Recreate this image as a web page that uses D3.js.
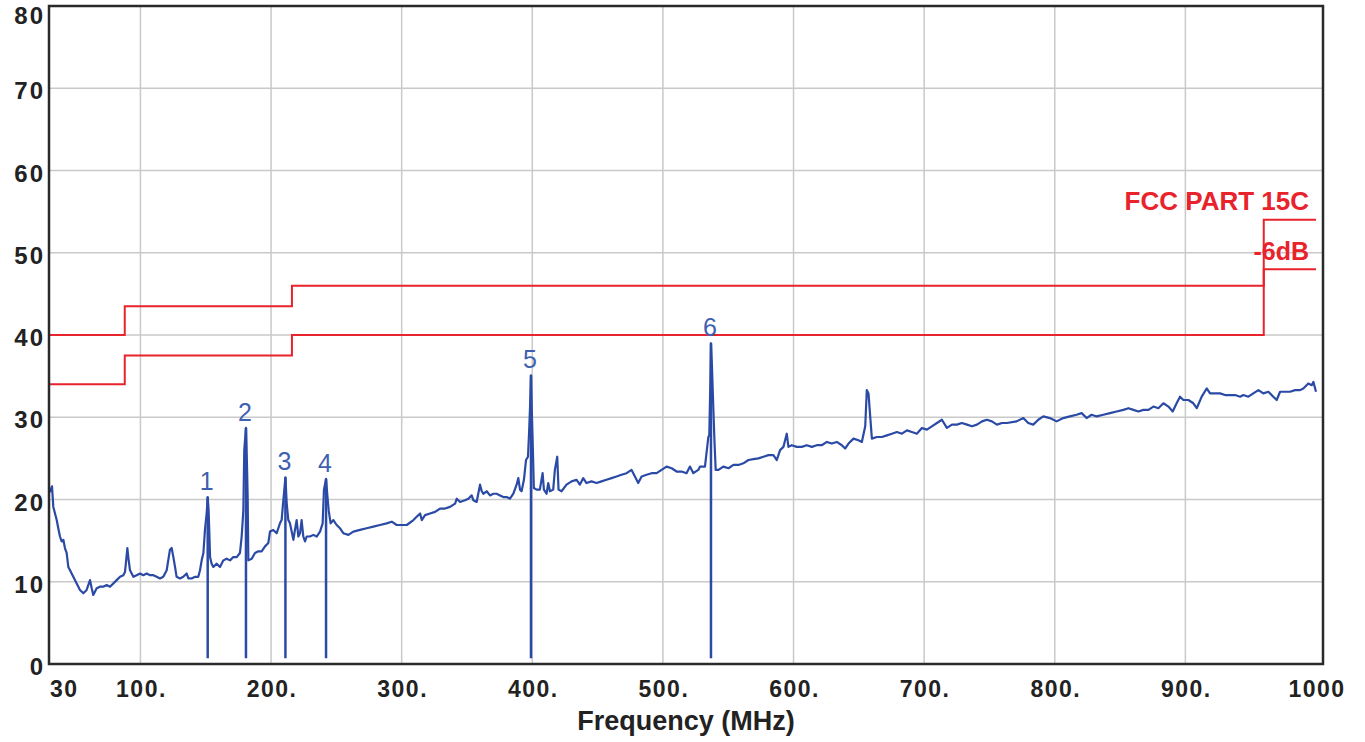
<!DOCTYPE html>
<html><head><meta charset="utf-8">
<script src="https://cdn.jsdelivr.net/npm/d3@7"></script>
<style>html,body{margin:0;padding:0;background:#fff;overflow:hidden}</style>
</head><body><svg id="c" width="1365" height="742"></svg>
<script>
// ---- data ----
const traceFreq = [30,31.3,32.3,33.3,34.6,35.9,37.1,38.4,39.7,41.0,42.2,43.5,44.8,46.1,48.6,51.2,53.7,56.3,58.8,61.4,62.7,63.9,66.5,69.0,71.6,74.1,76.7,79.3,81.8,84.4,86.9,88.2,90.0,90.7,92.0,94.6,97.1,99.7,102.2,104.8,107.3,109.9,112.4,115.0,117.5,120.1,122.6,123.9,125.2,126.5,127.7,130.3,132.8,135.4,136.7,139.2,141.8,144.3,145.6,146.9,148.2,149.4,150.7,151.5,152.2,153.3,154.5,155.8,158.4,160.9,163.5,166.0,168.6,171.1,173.7,176.2,177.5,178.8,179.5,180.8,181.6,182.1,182.6,185.2,187.7,190.3,192.8,195.4,197.9,199.2,201.7,204.3,206.8,208.1,209.4,211.0,212.0,213.2,214.5,217.1,218.3,219.6,220.9,222.2,223.4,224.7,226.0,227.3,229.8,232.4,234.9,237.5,239.5,240.5,242.1,243.1,244.1,245.6,247.7,250.2,252.8,
255.3,259.2,263.0,268.1,273.2,278.3,283.4,288.5,292.4,296.2,300.0,303.9,309.0,311.5,314.1,315.4,317.9,321.7,325.6,329.4,333.2,337.0,340.9,342.2,344.7,348.5,351.1,353.6,354.9,357.4,360.0,361.3,362.5,365.1,367.6,370.2,372.7,375.3,377.8,380.4,382.9,385.5,388.0,389.3,390.6,391.8,393.6,395.2,396.7,397.5,398.3,399.0,399.6,400.2,401.2,403.3,405.8,407.9,408.9,410.9,412.2,413.5,416.0,417.3,419.1,420.1,422.4,426.2,430.1,433.9,436.4,439.0,441.5,445.3,449.2,453.0,456.8,460.7,464.5,468.3,472.2,476.0,478.6,481.1,483.7,487.5,491.3,495.2,499.0,502.8,506.7,510.5,514.3,518.1,520.7,523.3,527.1,
528.4,532.2,534.8,535.5,536.3,536.8,537.5,538.6,539.5,540.4,542.5,546.3,550.2,554.0,557.8,561.6,565.5,569.3,573.1,577.0,580.8,584.6,587.2,589.7,592.3,594.8,596.1,598.6,602.5,606.3,610.1,614.0,617.8,621.6,625.5,629.3,633.1,637.0,639.5,642.1,645.9,649.7,652.3,654.9,656.1,657.4,658.7,660.0,663.8,667.6,671.5,675.3,679.1,683.0,686.8,690.6,694.4,698.3,702.1,705.9,709.8,713.6,717.4,721.3,725.1,728.9,732.8,736.6,740.4,744.3,748.1,751.9,755.7,759.6,763.4,
770.8,775.9,779.7,783.5,787.4,791.2,796.3,801.4,806.5,811.6,816.7,820.6,824.4,828.2,832.1,837.2,842.3,847.4,852.5,856.4,860.2,864.0,867.9,871.7,875.5,879.3,883.2,887.0,890.3,893.3,895.9,898.5,902.3,906.1,908.7,912.5,916.3,918.9,922.7,926.5,930.4,934.2,938.0,941.9,944.4,948.2,952.0,955.9,959.7,963.5,967.3,969.9,972.5,976.3,980.1,984.0,987.8,990.3,994.1,996.7,998.0,1000];
const traceLevel = [20.8,21.2,21.6,19.1,18.3,17.5,16.5,15.5,14.9,15.1,14.1,13.5,11.8,11.4,10.6,9.8,9.0,8.6,9.0,10.2,9.2,8.4,9.2,9.4,9.4,9.6,9.4,9.8,10.2,10.6,10.8,11.2,14.1,13.0,11.4,10.6,10.8,11.0,10.8,11.0,10.8,10.8,10.6,10.4,10.6,11.4,13.9,14.1,13.0,11.8,10.6,10.4,10.6,11.0,10.4,10.4,10.6,10.6,11.4,12.6,13.5,16.3,18.3,20.3,18.7,13.0,12.2,11.8,12.2,11.8,12.6,12.8,12.6,13.0,13.0,13.5,15.5,18.7,26.0,28.7,24.0,20.3,12.6,12.8,13.5,13.7,13.7,14.3,14.7,16.1,16.3,15.9,17.1,17.5,19.9,22.7,19.5,17.5,17.1,15.1,16.3,17.5,15.5,15.9,17.5,15.5,14.9,15.5,15.5,15.7,15.5,16.1,17.1,21.2,22.5,20.5,18.7,17.1,17.5,16.9,16.5,
15.9,15.7,16.1,16.3,16.5,16.7,16.9,17.1,17.3,16.9,16.9,16.9,17.5,17.9,18.3,17.5,18.1,18.3,18.5,18.9,18.9,19.1,19.5,20.1,19.7,19.9,20.1,20.5,19.9,19.7,21.8,21.0,20.7,21.0,20.5,20.7,20.7,20.5,20.3,20.3,20.1,20.7,21.8,22.6,21.2,21.0,22.4,24.8,25.2,28.0,31.3,35.1,31.0,27.6,21.4,21.2,21.2,23.2,21.2,20.7,22.0,21.0,21.2,23.6,25.2,21.2,21.0,21.8,22.2,22.4,21.8,22.6,22.0,22.2,22.0,22.2,22.4,22.6,22.8,23.0,23.2,23.6,22.8,22.0,22.8,23.0,23.2,23.2,23.6,24.0,23.8,23.4,23.4,23.2,24.0,23.2,23.6,
24.0,24.0,27.6,27.8,34.0,39.0,36.4,31.1,27.0,23.6,23.6,24.0,23.8,24.2,24.2,24.4,24.8,24.9,25.0,25.2,25.4,25.4,24.8,26.0,26.4,28.0,26.4,26.6,26.4,26.4,26.6,26.4,26.6,26.6,27.0,26.8,27.0,26.6,26.2,26.8,27.4,27.2,27.0,28.9,33.3,32.9,30.1,27.4,27.6,27.6,27.8,28.0,28.2,28.0,28.4,28.2,28.0,28.7,28.5,28.9,29.3,29.7,28.7,29.1,29.1,29.3,29.1,28.9,29.1,29.5,29.7,29.5,29.1,29.3,29.3,
29.5,29.9,29.3,29.1,29.7,30.1,29.9,29.5,29.9,30.1,30.3,30.5,29.9,30.3,30.1,30.3,30.5,30.7,30.9,31.1,30.9,30.7,30.9,30.9,31.3,31.1,31.7,31.3,30.7,31.7,32.5,32.1,32.1,31.7,31.1,32.5,33.5,32.9,32.9,32.9,32.7,32.7,32.7,32.5,32.7,32.5,32.9,33.3,32.9,33.1,32.5,32.1,33.1,33.1,33.1,33.3,33.3,33.5,34.1,33.9,34.3,33.1];

const markerLabels = ["1","2","3","4","5","6"];
const markerFreq   = [151.5,180.8,211.0,242.1,399.0,536.8];
const markerLevel  = [20.3,28.7,22.7,22.5,35.1,39.0];
const markerBase   = 0.7;

const limitFreq  = [30,88,216,960,1000];
const limitLevel = [40,43.5,46,54,54];
const limitMargin = 6;
const limitName = "FCC PART 15C";
const marginName = "-6dB";

const xTicks = [30,100,200,300,400,500,600,700,800,900,1000];
const xTickLabels = ["30","100.","200.","300.","400.","500.","600.","700.","800.","900.","1000"];
const yTicks = [0,10,20,30,40,50,60,70,80];
const xTitle = "Frequency (MHz)";

// ---- layout ----
const W = 1365, H = 742;
const L = 49, T = 6, B = 664, R = 1323, XR = 1316;
const svg = d3.select("#c");
svg.append("rect").attr("width",W).attr("height",H).attr("fill","#fff");

const x = d3.scaleLinear().domain([30,1000]).range([L,XR]);
const y = d3.scaleLinear().domain([0,80]).range([B,T]);

const font = "'Liberation Sans', Arial, sans-serif";
const ink = "#222";
const blue = "#2b4aa6";
const red = "#e8232b";

// grid
const grid = svg.append("g").attr("stroke","#c9c9c9").attr("stroke-width",1.5);
grid.selectAll("line.v").data(xTicks.filter(d=>d>30 && d<1000)).join("line")
  .attr("x1",d=>x(d)).attr("x2",d=>x(d)).attr("y1",T).attr("y2",B);
grid.selectAll("line.h").data(yTicks.filter(d=>d>0 && d<80)).join("line")
  .attr("class","h").attr("x1",L).attr("x2",R).attr("y1",d=>y(d)).attr("y2",d=>y(d));

// limit lines
const limPts = limitFreq.map((f,i)=>[f,limitLevel[i]]);
const stepLine = d3.line().x(d=>x(d[0])).y(d=>y(d[1])).curve(d3.curveStepAfter);
svg.append("path").attr("d",stepLine(limPts)).attr("fill","none").attr("stroke",red).attr("stroke-width",2);
svg.append("path").attr("d",stepLine(limPts.map(d=>[d[0],d[1]-limitMargin]))).attr("fill","none").attr("stroke",red).attr("stroke-width",2);

svg.append("text").attr("x",x(1000)-7).attr("y",y(limitLevel[limitLevel.length-1])-10)
  .attr("text-anchor","end").attr("font-family",font).attr("font-weight","bold")
  .attr("font-size",26).attr("fill",red).text(limitName);
svg.append("text").attr("x",x(1000)-7).attr("y",y(limitLevel[limitLevel.length-1]-limitMargin)-9)
  .attr("text-anchor","end").attr("font-family",font).attr("font-weight","bold")
  .attr("font-size",25).attr("fill",red).text(marginName);

// trace
const tr = traceFreq.map((f,i)=>[f,traceLevel[i]]);
svg.append("path").attr("d",d3.line().x(d=>x(d[0])).y(d=>y(d[1]))(tr))
  .attr("fill","none").attr("stroke",blue).attr("stroke-width",2.2).attr("stroke-linejoin","round");

// markers
const mk = svg.append("g");
markerFreq.forEach((f,i)=>{
  mk.append("line").attr("x1",x(f)).attr("x2",x(f)).attr("y1",y(markerLevel[i])).attr("y2",y(markerBase))
    .attr("stroke",blue).attr("stroke-width",2.5);
  mk.append("text").attr("x",x(f)-1).attr("y",y(markerLevel[i])-7).attr("text-anchor","middle")
    .attr("font-family",font).attr("font-size",25).attr("fill","#3f5fb0").text(markerLabels[i]);
});

// frame
svg.append("rect").attr("x",L).attr("y",T).attr("width",R-L).attr("height",B-T)
  .attr("fill","none").attr("stroke","#2a2a2a").attr("stroke-width",2.5);

// tick labels
svg.append("g").selectAll("text").data(xTicks).join("text")
  .attr("x",(d,i)=> i===0 ? L+1 : x(d)+1)
  .attr("y",697).attr("text-anchor",(d,i)=> i===0 ? "start" : "middle")
  .attr("font-family",font).attr("font-weight","bold").attr("font-size",23)
  .attr("letter-spacing",1.5).attr("fill",ink).text((d,i)=>xTickLabels[i]);
svg.append("g").selectAll("text").data(yTicks).join("text")
  .attr("x",45).attr("y",d=>Math.max(y(d)+11, 24)).attr("text-anchor","end")
  .attr("font-family",font).attr("font-weight","bold").attr("font-size",24)
  .attr("letter-spacing",2).attr("fill",ink).text(d=>d);

svg.append("text").attr("x",686).attr("y",730).attr("text-anchor","middle")
  .attr("font-family",font).attr("font-weight","bold").attr("font-size",27)
  .attr("fill",ink).text(xTitle);
</script></body></html>
